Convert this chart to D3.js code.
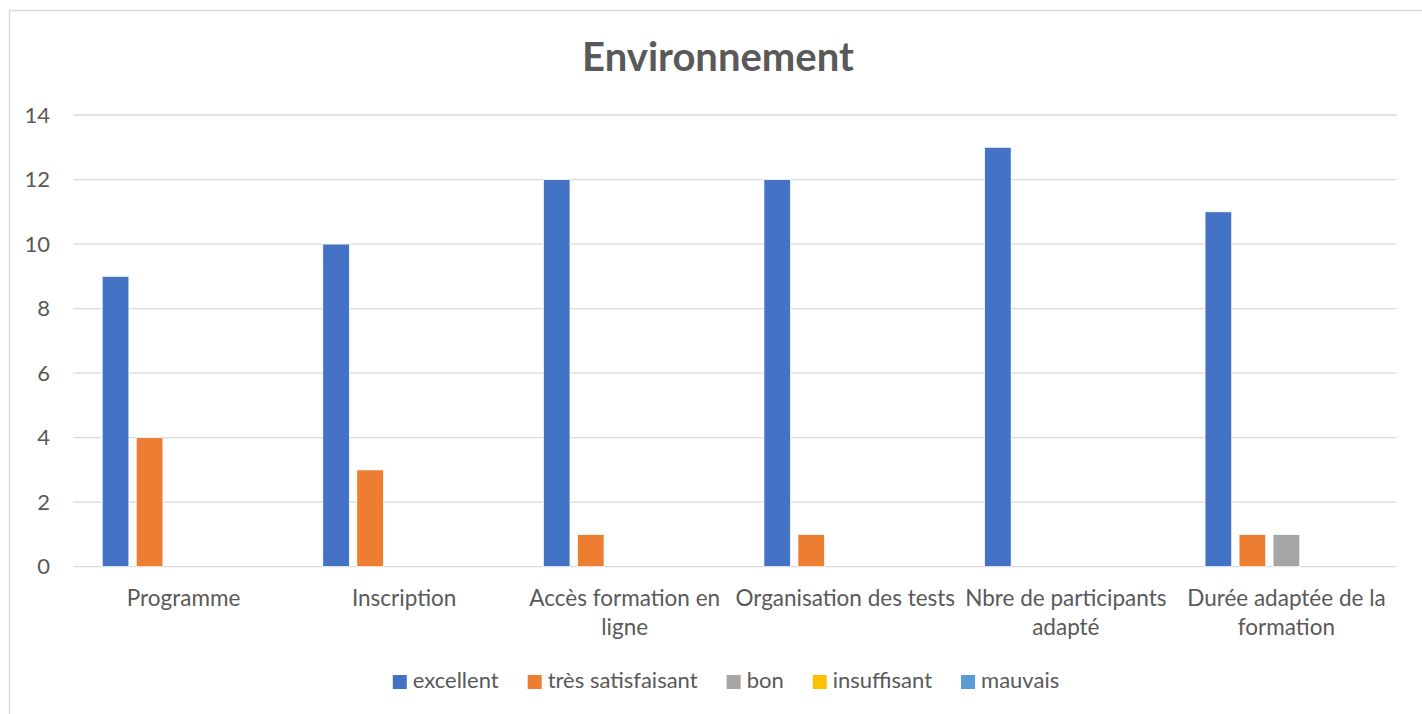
<!DOCTYPE html>
<html>
<head>
<meta charset="utf-8">
<script src="https://cdn.jsdelivr.net/npm/d3@7"></script>
<style>
  body { margin: 0; background: #fff; }
  text { font-family: Lato, "Open Sans", sans-serif; fill: #595959; }
</style>
</head>
<body>
<div id="chart"></div>
<script>
// categories (\n = line break as in the picture)
var categories = ['Programme', 'Inscription', 'Accès formation en\nligne', 'Organisation des tests', 'Nbre de participants\nadapté', 'Durée adaptée de la\nformation'];
var seriesNames = ['excellent', 'très satisfaisant', 'bon', 'insuffisant', 'mauvais'];
var seriesColors = ['#4472c4', '#ed7d31', '#a5a5a5', '#ffc000', '#5b9bd5'];
// values per series, one per category
var excellent = [9, 10, 12, 12, 13, 11];
var tresSatisfaisant = [4, 3, 1, 1, 0, 1];
var bon = [0, 0, 0, 0, 0, 1];
var insuffisant = [0, 0, 0, 0, 0, 0];
var mauvais = [0, 0, 0, 0, 0, 0];
var yTicks = [0, 2, 4, 6, 8, 10, 12, 14];

var allSeries = [excellent, tresSatisfaisant, bon, insuffisant, mauvais];

var width = 1422, height = 714;

var svg = d3.select('#chart').append('svg')
    .attr('width', width)
    .attr('height', height);

// chart frame
svg.append('rect')
    .attr('x', 9.5).attr('y', 10.5)
    .attr('width', 1430).attr('height', 720)
    .attr('fill', '#fff')
    .attr('stroke', '#d9d9d9')
    .attr('stroke-width', 1.5);

// title
svg.append('text')
    .attr('x', 718).attr('y', 71)
    .attr('text-anchor', 'middle')
    .style('font-size', '40px')
    .style('font-weight', 'bold')
    .text('Environnement');

// SCALES
var x0 = d3.scaleBand().domain(d3.range(categories.length))
    .range([73.3, 1396.7])
    .paddingInner(0.262).paddingOuter(0.131);

var x1 = d3.scaleBand().domain(d3.range(seriesNames.length))
    .range([0, x0.bandwidth()])
    .paddingInner(0.215).paddingOuter(0);

var y = d3.scaleLinear().domain([0, 14]).range([566.7, 115]);

// gridlines
svg.append('g')
    .selectAll('line')
    .data(yTicks)
    .enter().append('line')
    .attr('x1', 73.3).attr('x2', 1396.7)
    .attr('y1', function(d) { return y(d); })
    .attr('y2', function(d) { return y(d); })
    .attr('stroke', '#d9d9d9')
    .attr('stroke-width', 1.3);

// y axis labels
var yAxis = svg.append('g')
    .attr('transform', 'translate(50,0)')
    .call(d3.axisLeft(y).tickValues(yTicks).tickSize(0).tickPadding(0));
yAxis.select('.domain').remove();
yAxis.selectAll('text')
    .style('font-family', 'Lato, "Open Sans", sans-serif')
    .style('font-size', '22px')
    .attr('fill', '#595959');

// bars
var groups = svg.append('g').selectAll('g')
    .data(categories)
    .enter().append('g')
    .attr('transform', function(d, i) { return 'translate(' + x0(i) + ',0)'; });

groups.selectAll('rect')
    .data(function(d, i) { return allSeries.map(function(s, j) { return { s: j, v: s[i] }; }); })
    .enter().append('rect')
    .filter(function(d) { return d.v > 0; })
    .attr('x', function(d) { return x1(d.s); })
    .attr('y', function(d) { return y(d.v); })
    .attr('width', x1.bandwidth())
    .attr('height', function(d) { return y(0) - y(d.v); })
    .attr('fill', function(d) { return seriesColors[d.s]; })
    .attr('stroke', '#fff')
    .attr('stroke-width', 0.8);

// category labels
var xAxis = svg.append('g');
categories.forEach(function(c, i) {
    var t = xAxis.append('text')
        .attr('x', x0(i) + x0.bandwidth() / 2)
        .attr('y', 606)
        .attr('text-anchor', 'middle')
        .style('font-size', '22.5px');
    c.split('\n').forEach(function(line, k) {
        t.append('tspan')
            .attr('x', x0(i) + x0.bandwidth() / 2)
            .attr('dy', k === 0 ? 0 : 29)
            .text(line);
    });
});

// legend
var legend = svg.append('g');
var lx = 0;
seriesNames.forEach(function(name, i) {
    var item = legend.append('g').attr('transform', 'translate(' + lx + ',0)');
    item.append('rect')
        .attr('x', 0).attr('y', 675)
        .attr('width', 14).attr('height', 14)
        .attr('fill', seriesColors[i]);
    var t = item.append('text')
        .attr('x', 20).attr('y', 688)
        .style('font-size', '22px')
        .text(name);
    lx += 20 + t.node().getComputedTextLength() + 29;
});
var legendW = lx - 29;
legend.attr('transform', 'translate(' + (726 - legendW / 2) + ',0)');
</script>
</body>
</html>
